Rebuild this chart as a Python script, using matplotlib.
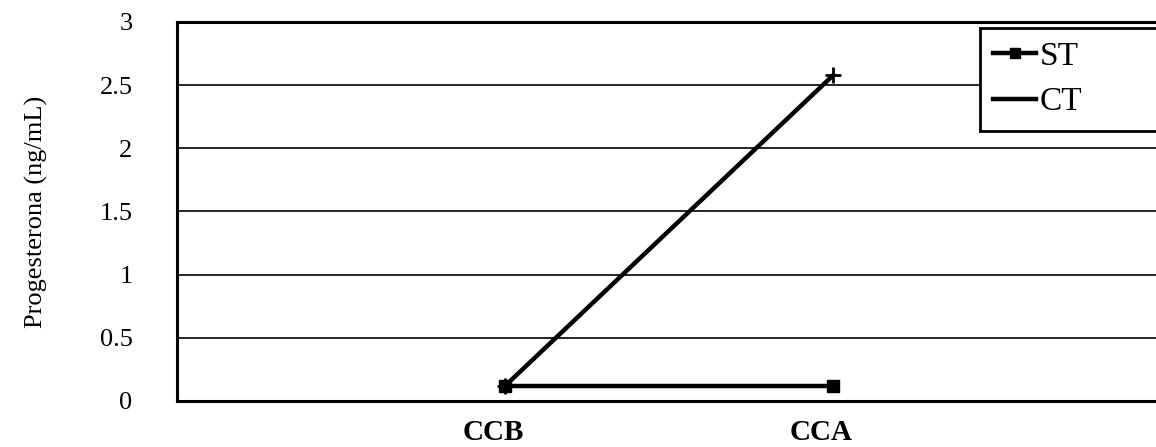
import matplotlib.pyplot as plt
import matplotlib.transforms as mtransforms
from matplotlib.lines import Line2D

categories = ["CCB", "CCA"]
st_values = [0.12, 0.12]
ct_values = [0.12, 2.58]
y_ticks = [0, 0.5, 1, 1.5, 2, 2.5, 3]
y_labels = ["0", "0.5", "1", "1.5", "2", "2.5", "3"]

plt.rcParams['font.family'] = ['Liberation Serif', 'DejaVu Serif']

fig = plt.figure(figsize=(11.56, 4.47), dpi=100)
ax = fig.add_axes([0.153, 0.103, 0.852, 0.848])

x = [1, 2]
ax.plot(x, ct_values, color="black", lw=3.2, marker="+", ms=12, mew=2, zorder=3)
ax.plot(x, st_values, color="black", lw=3.2, marker="s", ms=8, zorder=4)

ax.set_xlim(0, 3)
ax.set_ylim(0, 3)
ax.set_yticks(y_ticks)
ax.set_yticklabels(y_labels, fontsize=19)
ax.set_xticks(x)
ax.set_xticklabels(categories, fontsize=21, fontweight="bold")
ax.tick_params(axis="y", length=0, pad=32)
ax.tick_params(axis="x", length=0, pad=13)
# labels sit a little left of the points in the original
shift = mtransforms.ScaledTranslation(-12 / 100, 0, fig.dpi_scale_trans)
for lab in ax.get_xticklabels():
    lab.set_transform(lab.get_transform() + shift)
ax.grid(axis="y", color="black", lw=1.2)
ax.set_axisbelow(True)
for side in ["left", "top", "bottom"]:
    ax.spines[side].set_linewidth(2.2)
ax.spines["right"].set_visible(False)

ax.set_ylabel("Progesterona (ng/mL)", fontsize=19, labelpad=37)

handles = [Line2D([], [], color="black", lw=3.2, marker="s", ms=7),
           Line2D([], [], color="black", lw=3.2)]
# legend box runs off the right edge like in the scan
leg = ax.legend(handles, ["ST", "CT"], loc="upper left",
                bbox_to_anchor=(0.815, 0.70, 0.25, 0.284), mode="expand",
                fontsize=24, frameon=True, fancybox=False, framealpha=1,
                handlelength=1.3, handletextpad=0.1, borderpad=0.4, labelspacing=0.45,
                borderaxespad=0)
leg.get_frame().set_edgecolor("black")
leg.get_frame().set_linewidth(2)

fig.savefig("out.png", dpi=100)
